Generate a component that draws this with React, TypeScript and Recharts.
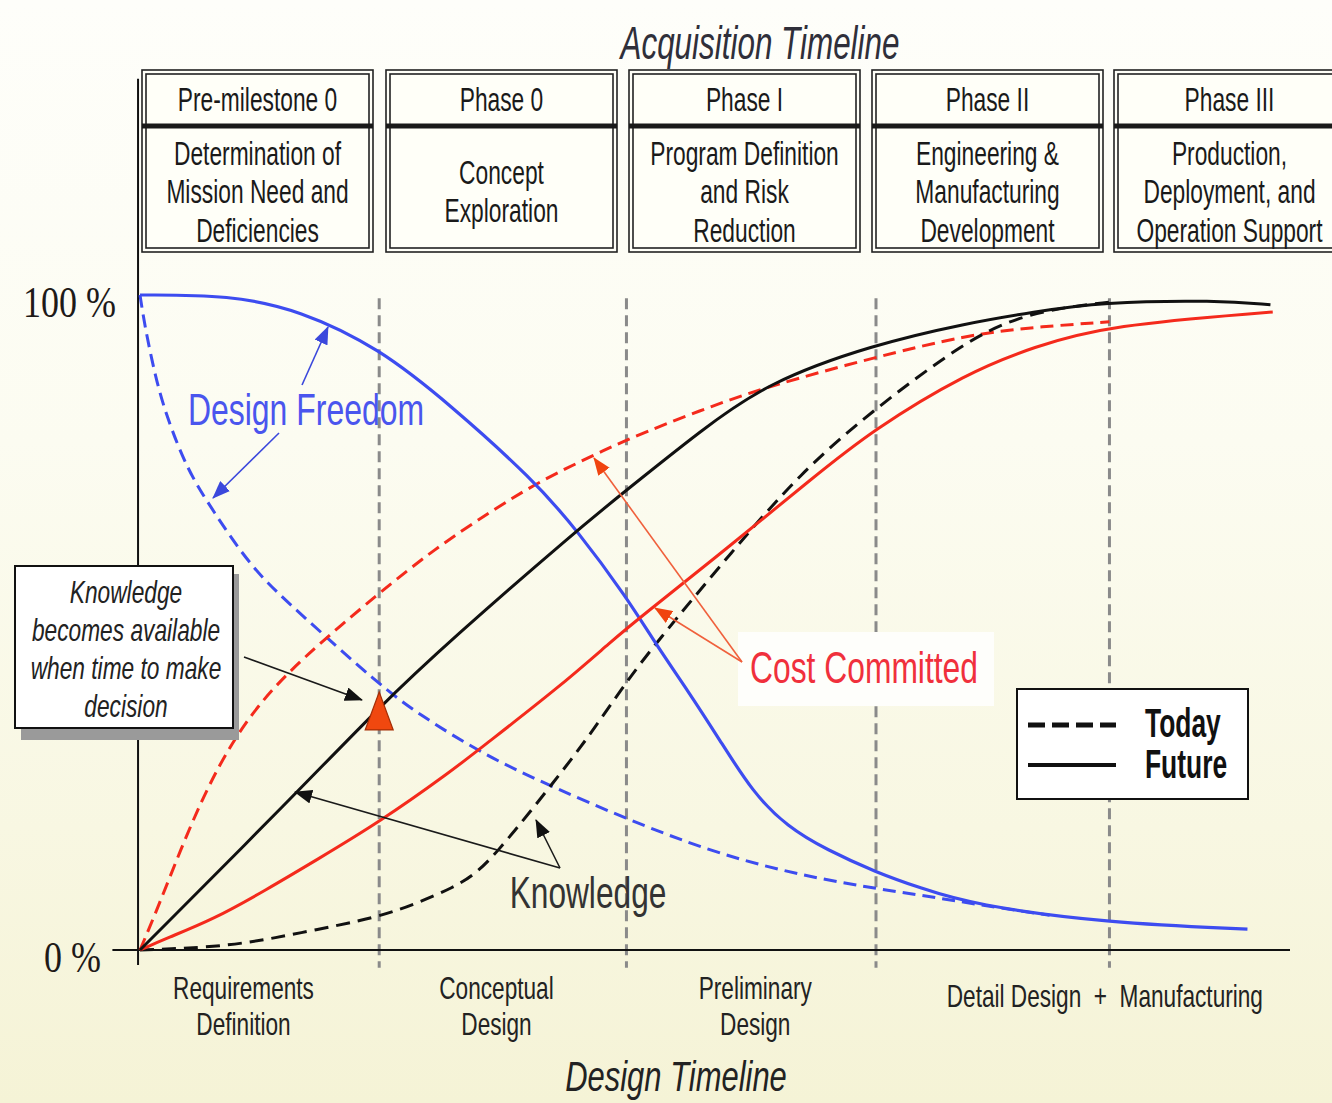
import React from 'react';
import { LineChart, Line, XAxis, YAxis, ReferenceLine, ReferenceDot, Legend } from 'recharts';

// ---------------- data: x = position along design timeline (0..100), y = percent ----------------
const designFreedomFuture: number[][] = [
  [0, 100], [7.8, 100], [13.9, 97.7], [20.8, 91.9], [27, 83.2], [34.2, 71.8], [38, 64.1],
  [42.3, 53.9], [45, 46.3], [47.6, 39.7], [50.4, 32.1], [53.3, 24.0], [56.3, 18.8], [59.7, 15.3],
  [64.1, 11.8], [67.8, 9.5], [72.4, 6.9], [84.3, 4.1], [96.3, 3.2],
];
const designFreedomToday: number[][] = [
  [0, 100], [0.4, 95.4], [1.3, 87.8], [2.2, 82.0], [4.1, 73.3], [6.3, 67.2], [9.8, 58.0],
  [13.9, 51.4], [20.8, 40.5], [24.3, 35.9], [30.2, 29.5], [35.9, 24.9], [42.3, 20.0],
  [50.4, 14.5], [59.1, 10.7], [67.8, 8.4], [74.8, 6.4], [79.1, 5.3],
];
const costCommittedFuture: number[][] = [
  [0, 0], [2.3, 1.8], [6.3, 4.6], [11, 9.2], [15.4, 13.8], [20.8, 19.5], [27, 27.2],
  [29.6, 30.8], [36.5, 40.2], [41.1, 47.3], [43.5, 50.8], [51.6, 62.1], [58.3, 71.8],
  [63.7, 79.4], [71.9, 88.1], [77.7, 92.1], [84.3, 95.4], [98.5, 97.4],
];
const costCommittedToday: number[][] = [
  [0, 0], [1.5, 6.2], [4.1, 17.9], [6.7, 27.9], [9.8, 36.6], [13.9, 44.3], [20.8, 54.5],
  [25.5, 61.1], [30.7, 67.2], [35, 71.8], [39.4, 75.5], [42.3, 77.9], [48.7, 82.4],
  [54.5, 86.0], [63.7, 90.4], [71.9, 93.9], [77.7, 95.1], [84.3, 95.9],
];
const knowledgeFuture: number[][] = [
  [0, 0], [13.3, 23.4], [20.8, 37.1], [27, 47.3], [38, 64.1], [42.3, 70.2], [48.7, 79.2],
  [54.5, 86.6], [63.7, 92.4], [71.9, 95.7], [77.7, 97.4], [83.5, 98.9], [93.7, 99.2], [98.3, 98.5],
];
const knowledgeToday: number[][] = [
  [0, 0], [7.8, 0.5], [13.9, 2.6], [20.8, 5.0], [24.3, 7.3], [27.2, 9.5], [29.1, 11.5],
  [31, 14.8], [34.2, 21.7], [35.9, 25.5], [38, 30.2], [40, 35.1], [42.3, 40.9], [44.6, 46.3],
  [51.6, 61.1], [57.4, 72.8], [63.7, 82.4], [71.9, 93.1], [76.3, 96.6], [80.6, 98.2], [84.3, 98.9],
];

const phaseBoundaries = [20.8, 42.3, 64, 84.3];
const stageTicks = [9.0, 31.0, 53.5, 83.9];
const stageLabels = [
  ['Requirements', 'Definition'],
  ['Conceptual', 'Design'],
  ['Preliminary', 'Design'],
  ['Detail Design\u00a0\u00a0+\u00a0\u00a0Manufacturing'],
];
const yTicks = [0, 100];
const yTickLabels = ['0 %', '100 %'];
const phaseNames = ['Pre-milestone 0', 'Phase 0', 'Phase I', 'Phase II', 'Phase III'];
const phaseDescriptions = [
  ['Determination of', 'Mission Need and', 'Deficiencies'],
  ['Concept', 'Exploration'],
  ['Program Definition', 'and Risk', 'Reduction'],
  ['Engineering &', 'Manufacturing', 'Development'],
  ['Production,', 'Deployment, and', 'Operation Support'],
];
const legendLabels = ['Today', 'Future'];
const decisionPoint = { x: 20.8, y: 36.5 };
const noteLines = ['Knowledge', 'becomes available', 'when time to make', 'decision'];

// ---------------- layout ----------------
const W = 1332;
const H = 1103;
const PLOT = { left: 140, right: 1290, top: 295, bottom: 950 };
const Y_AXIS_W = 100;
const X_AXIS_H = 120;

const SANS = "'Liberation Sans', Arial, Helvetica, sans-serif";
const SERIF = "'Liberation Serif', 'Times New Roman', serif";

const BLUE = '#3d4cf0';
const RED = '#f42a1c';
const BLACK = '#111111';
const GRID = '#8a8a8a';

const rows = (pts: number[][]) => pts.map(([x, y]) => ({ x, y }));

const series = [
  { key: 'dfToday', data: designFreedomToday, color: BLUE, dash: '13 7', width: 3 },
  { key: 'ccToday', data: costCommittedToday, color: RED, dash: '13 7', width: 3 },
  { key: 'knToday', data: knowledgeToday, color: BLACK, dash: '14 8', width: 3 },
  { key: 'dfFuture', data: designFreedomFuture, color: BLUE, dash: undefined, width: 3.2 },
  { key: 'ccFuture', data: costCommittedFuture, color: RED, dash: undefined, width: 3 },
  { key: 'knFuture', data: knowledgeFuture, color: BLACK, dash: undefined, width: 3 },
];

function SText(props: any) {
  const { x, y, sx = 1, size, anchor = 'middle', fill = '#1e1e1e', family = SANS, weight, italic, children } = props;
  return (
    <text
      transform={`translate(${x},${y}) scale(${sx},1)`}
      textAnchor={anchor}
      fontSize={size}
      fontFamily={family}
      fill={fill}
      fontWeight={weight}
      fontStyle={italic ? 'italic' : undefined}
    >
      {children}
    </text>
  );
}

const renderXTick = (p: any) => {
  const i = stageTicks.indexOf(p.payload.value);
  const lines = stageLabels[i] || [];
  const base = lines.length === 1 ? 57 : 49;
  return (
    <g transform={`translate(${p.x},${PLOT.bottom})`}>
      {lines.map((t, k) => (
        <SText key={k} x={0} y={base + k * 36} sx={0.73} size={31} fill="#222">{t}</SText>
      ))}
    </g>
  );
};

const renderYTick = (p: any) => {
  const v = p.payload.value;
  const i = yTicks.indexOf(v);
  const rightEdge = v === 100 ? 116 : 101;
  return (
    <SText x={rightEdge} y={p.y + 22} sx={0.8} size={45} anchor="end" family={SERIF} fill="#1e1a18">
      {yTickLabels[i]}
    </SText>
  );
};

const LegendBox = () => (
  <svg width={233} height={112} style={{ display: 'block' }}>
    <rect x={1} y={1} width={231} height={110} fill="#ffffff" stroke="#111" strokeWidth={2} />
    <line x1={12} x2={100} y1={37} y2={37} stroke="#111" strokeWidth={5} strokeDasharray="17 7" />
    <line x1={12} x2={100} y1={77} y2={77} stroke="#111" strokeWidth={4} />
    <SText x={129} y={49} sx={0.66} size={40} anchor="start" weight="bold" fill="#111">{legendLabels[0]}</SText>
    <SText x={129} y={90} sx={0.66} size={40} anchor="start" weight="bold" fill="#111">{legendLabels[1]}</SText>
  </svg>
);

const Triangle = (p: any) => {
  const { cx, cy } = p;
  if (cx == null || cy == null) return null;
  return (
    <path
      d={`M${cx},${cy - 19} L${cx + 14},${cy + 19} L${cx - 14},${cy + 19} Z`}
      fill="#f0480f"
      stroke="#a52e06"
      strokeWidth={1.2}
    />
  );
};

const arrows = [
  { from: [302, 385], to: [328, 327], color: '#3b48dc', head: 'ahBlue' },
  { from: [279, 433], to: [213, 498], color: '#3b48dc', head: 'ahBlue' },
  { from: [742, 662], to: [594, 458], color: '#f0603c', head: 'ahRed' },
  { from: [742, 662], to: [655, 608], color: '#f0603c', head: 'ahRed' },
  { from: [560, 868], to: [295, 792], color: '#1a1a1a', head: 'ahBlack' },
  { from: [560, 868], to: [536, 820], color: '#1a1a1a', head: 'ahBlack' },
  { from: [244, 657], to: [362, 700], color: '#1a1a1a', head: 'ahBlack' },
];

function Overlay() {
  const boxLefts = [142, 386, 629, 872, 1114];
  const BOX_W = 231;
  const marker = (id: string, fill: string) => (
    <marker id={id} viewBox="0 0 18 14" refX={17} refY={7} markerWidth={18} markerHeight={14} markerUnits="userSpaceOnUse" orient="auto">
      <path d="M0,0 L18,7 L0,14 Z" fill={fill} />
    </marker>
  );
  return (
    <svg width={W} height={H} style={{ position: 'absolute', left: 0, top: 0, pointerEvents: 'none' }}>
      <defs>
        {marker('ahBlue', '#3b48dc')}
        {marker('ahRed', '#f0440f')}
        {marker('ahBlack', '#111')}
      </defs>

      {/* title */}
      <SText x={760} y={59} sx={0.683} size={46} italic fill="#2f2f3a">Acquisition Timeline</SText>

      {/* phase boxes */}
      {phaseNames.map((name, i) => {
        const L = boxLefts[i];
        const cx = L + BOX_W / 2;
        const desc = phaseDescriptions[i];
        return (
          <g key={name}>
            <rect x={L} y={70} width={BOX_W} height={182} fill="#fffff8" stroke="#222" strokeWidth={1.6} />
            <rect x={L + 4} y={74} width={BOX_W - 8} height={174} fill="none" stroke="#222" strokeWidth={1.6} />
            <line x1={L} x2={L + BOX_W} y1={126} y2={126} stroke="#1a1a1a" strokeWidth={5} />
            <SText x={cx} y={111} sx={0.67} size={34} fill="#1a1a1a">{name}</SText>
            {desc.map((t, k) => (
              <SText key={k} x={cx} y={203 + (k - (desc.length - 1) / 2) * 38.5} sx={0.67} size={34} fill="#1a1a1a">
                {t}
              </SText>
            ))}
          </g>
        );
      })}

      {/* series labels */}
      <SText x={306} y={425} sx={0.726} size={44} fill="#4a55ee">Design Freedom</SText>
      <rect x={738} y={632} width={256} height={74} fill="#fefefb" />
      <SText x={864} y={683} sx={0.723} size={44} fill="#f0303c">Cost Committed</SText>
      <SText x={588} y={908} sx={0.72} size={44} fill="#333">Knowledge</SText>

      {/* note box */}
      <rect x={21} y={574} width={218} height={166} fill="#9a9a9a" />
      <rect x={15} y={566} width={218} height={162} fill="#ffffff" stroke="#111" strokeWidth={2} />
      {noteLines.map((t, k) => (
        <SText key={k} x={126} y={603 + k * 38} sx={0.71} size={32} italic fill="#222">{t}</SText>
      ))}

      {/* arrows */}
      {arrows.map((a, k) => (
        <line
          key={k}
          x1={a.from[0]} y1={a.from[1]} x2={a.to[0]} y2={a.to[1]}
          stroke={a.color} strokeWidth={1.6}
          markerEnd={`url(#${a.head})`}
        />
      ))}

      {/* x axis title */}
      <SText x={676} y={1091} sx={0.72} size={43} italic fill="#222">Design Timeline</SText>
    </svg>
  );
}

export default function App() {
  return (
    <div
      style={{
        position: 'absolute',
        left: 0,
        top: 0,
        width: W,
        height: H,
        overflow: 'hidden',
        background: 'linear-gradient(180deg, #fefefa 0%, #fcfcf1 40%, #f8f7e2 75%, #f5f3d6 100%)',
      }}
    >
      <LineChart
        width={W}
        height={H}
        margin={{ top: PLOT.top, right: W - PLOT.right, bottom: H - PLOT.bottom - X_AXIS_H, left: PLOT.left - Y_AXIS_W }}
      >
        <XAxis
          type="number"
          dataKey="x"
          domain={[0, 100]}
          ticks={stageTicks}
          interval={0}
          height={X_AXIS_H}
          axisLine={false}
          tickLine={false}
          tick={renderXTick}
        />
        <YAxis
          type="number"
          domain={[0, 100]}
          ticks={yTicks}
          interval={0}
          width={Y_AXIS_W}
          axisLine={false}
          tickLine={false}
          tick={renderYTick}
        />
        {phaseBoundaries.map((b) => (
          <ReferenceLine
            key={b}
            segment={[{ x: b, y: 99.5 }, { x: b, y: -2.7 }]}
            stroke={GRID}
            strokeWidth={3}
            strokeDasharray="11 6"
            ifOverflow="visible"
          />
        ))}
        <ReferenceLine segment={[{ x: -0.17, y: -2.3 }, { x: -0.17, y: 133 }]} stroke="#111" strokeWidth={2} ifOverflow="visible" />
        <ReferenceLine segment={[{ x: -2.4, y: 0 }, { x: 100, y: 0 }]} stroke="#111" strokeWidth={2} ifOverflow="visible" />
        {series.map((s) => (
          <Line
            key={s.key}
            data={rows(s.data)}
            dataKey="y"
            type="basis"
            stroke={s.color}
            strokeWidth={s.width}
            strokeDasharray={s.dash}
            dot={false}
            activeDot={false}
            isAnimationActive={false}
          />
        ))}
        <ReferenceDot x={decisionPoint.x} y={decisionPoint.y} r={14} shape={Triangle} ifOverflow="visible" />
        <Legend
          layout="horizontal"
          verticalAlign="middle"
          align="center"
          content={() => <LegendBox />}
          wrapperStyle={{ position: 'absolute', left: 1016, top: 688, width: 233, height: 112 }}
        />
      </LineChart>
      <Overlay />
    </div>
  );
}
